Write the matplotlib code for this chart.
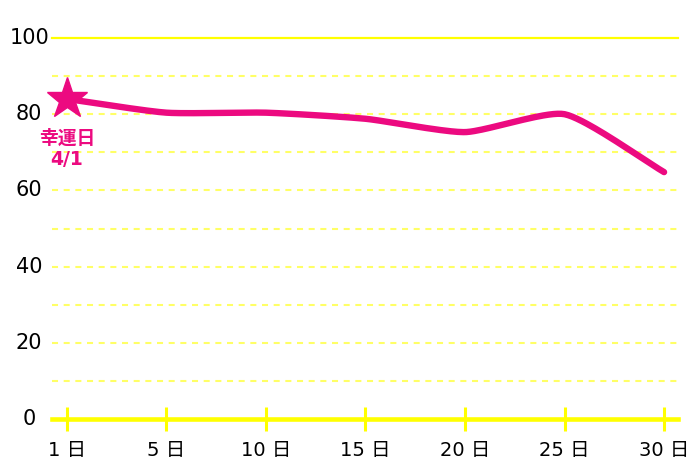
import numpy as np
import matplotlib
matplotlib.use("Agg")
from matplotlib import pyplot as plt

plt.rcParams['font.family'] = ['DejaVu Sans', 'Noto Sans CJK JP']

# data
days = ["1 日", "5 日", "10 日", "15 日", "20 日", "25 日", "30 日"]
values = [84, 80.4, 80.4, 78.8, 75.3, 80, 64.8]
yticks = [0, 20, 40, 60, 80, 100]
lucky_label = "幸運日\n4/1"

pink = "#EC0A80"
yellow = "#FFFF00"
light_yellow = "#FFFF66"


def spline(x, y, tension=0.2, sx=100.0, sy=3.81, n=40):
    # bezier smoothing like chart.js line tension; just for drawing
    x = np.asarray(x, float)
    y = np.asarray(y, float)
    k = len(x)
    cp_prev = np.zeros((k, 2))
    cp_next = np.zeros((k, 2))
    for i in range(k):
        p = np.array([x[max(i - 1, 0)], y[max(i - 1, 0)]])
        c = np.array([x[i], y[i]])
        q = np.array([x[min(i + 1, k - 1)], y[min(i + 1, k - 1)]])
        d01 = np.hypot((c[0] - p[0]) * sx, (c[1] - p[1]) * sy)
        d12 = np.hypot((q[0] - c[0]) * sx, (q[1] - c[1]) * sy)
        s01 = d01 / (d01 + d12)
        s12 = d12 / (d01 + d12)
        cp_prev[i] = c - tension * s01 * (q - p)
        cp_next[i] = c + tension * s12 * (q - p)
    xs, ys = [], []
    t = np.linspace(0, 1, n)[:, None]
    for i in range(k - 1):
        p0 = np.array([x[i], y[i]])
        p3 = np.array([x[i + 1], y[i + 1]])
        pts = ((1 - t)**3 * p0 + 3 * (1 - t)**2 * t * cp_next[i]
               + 3 * (1 - t) * t**2 * cp_prev[i + 1] + t**3 * p3)
        xs.append(pts[:, 0])
        ys.append(pts[:, 1])
    return np.concatenate(xs), np.concatenate(ys)


fig = plt.figure(figsize=(7, 4.67), dpi=100)
ax = fig.add_axes([52 / 700, 1 - 419 / 467, 626 / 700, 381 / 467])

xpos = np.arange(len(days))
ax.set_xlim(-0.15, len(days) - 1 + 0.14)
ax.set_ylim(0, 100)

# grid
for v in range(10, 100, 10):
    ax.axhline(v, color=light_yellow, lw=1.5, ls=(0, (2.9, 2.7)), zorder=1)
ax.axhline(100, color=yellow, lw=1.6, zorder=1, clip_on=False)
ax.axhline(0, color=yellow, lw=3.3, zorder=2, clip_on=False)

for sp in ax.spines.values():
    sp.set_visible(False)

ax.set_xticks(xpos)
ax.set_xticklabels(days, fontsize=14)
ax.tick_params(axis='x', direction='inout', length=17, width=2.2, color=yellow, pad=7)
ax.set_yticks(yticks)
ax.set_yticklabels([])
ax.tick_params(axis='y', length=0)
for v in yticks:
    ax.text(-0.38, v, str(v), fontsize=15, ha='center', va='center', clip_on=False)

sx, sy = spline(xpos, values)
ax.plot(sx, sy, color=pink, lw=4.6, solid_capstyle='round', zorder=3, clip_on=False)
ax.plot(xpos[0], values[0], marker='*', markersize=31, color=pink, zorder=4, clip_on=False)
ax.text(xpos[0], values[0] - 7.8, lucky_label, color=pink, fontsize=13.5, fontweight='bold',
        ha='center', va='top', linespacing=1.15, zorder=4)

fig.savefig("out.png", dpi=100)
